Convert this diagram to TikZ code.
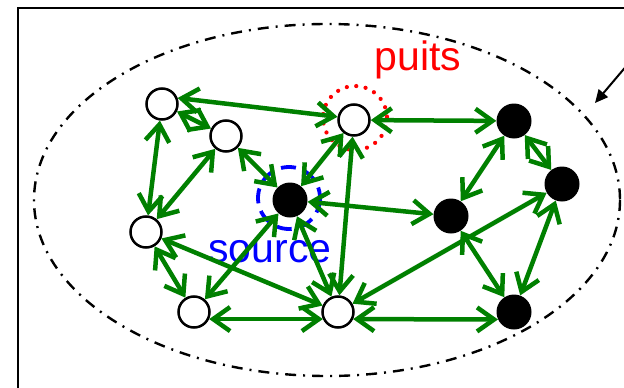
\documentclass[tikz,border=0pt]{standalone}
\usepackage{fontspec}
\setmainfont{Liberation Sans}
\usetikzlibrary{arrows.meta}
\definecolor{vert}{RGB}{0,128,0}
\tikzset{
	vide/.style={circle, draw=black, fill=white, line width=2.5pt, minimum size=31pt, inner sep=0pt},
	plein/.style={circle, fill=black, minimum size=35pt, inner sep=0pt},
	lien/.style={vert, line width=4.5pt, {Straight Barb[length=17pt,width=24pt]}-{Straight Barb[length=17pt,width=24pt]}},
	grand/.style={font=\fontsize{41}{41}\selectfont, anchor=base, inner sep=0pt}
}
\begin{document}
\begin{tikzpicture}[x=1pt, y=-1pt]
		\clip (0,0) rectangle (624,388);
		\fill[white] (0,0) rectangle (624,388);
		\draw[line width=2.2pt] (18,420) -- (18,8) -- (660,8);
		\draw[line width=2.4pt, dash pattern=on 11pt off 7pt on 2pt off 7pt] (327,200) ellipse (293 and 176);
		\coordinate (fl) at (634,57);
		\coordinate (cible) at (595,103);
		\draw[line width=2pt, -{Triangle[length=13pt,width=12pt]}] (fl) -- (cible);
		
		\draw[red, line width=4.2pt, line cap=round, dash pattern=on 0pt off 9.5pt] (355,118) circle (32);
		\draw[blue, line width=3.8pt, dash pattern=on 15pt off 8pt] (289,198) circle (31);
		\node[grand, red] (puits) at (418,70) {puits};
		\node[grand, blue] (source) at (270,262) {source};
		
		\node[vide] (A) at (162,104) {};
		\node[vide] (B) at (226,136) {};
		\node[plein] (S) at (290,200) {};
		\node[vide] (P) at (354,120) {};
		\node[vide] (C) at (146,232) {};
		\node[vide] (D) at (194,312) {};
		\node[vide] (E) at (338,312) {};
		\node[plein] (F) at (514,121) {};
		\node[plein] (G) at (562,184) {};
		\node[plein] (H) at (451,216) {};
		\node[plein] (I) at (514,312) {};
		
		\draw[lien] (A.21) -- (P.169);
		\draw[lien] (A) -- (B);
		\draw[lien] (A) -- (C);
		\draw[lien] (B) -- (C);
		\draw[lien] (B) -- (S);
		\draw[lien] (P) -- (S);
		\draw[lien] (P) -- (F);
		\draw[lien] (P) -- (E);
		\draw[lien] (S) -- (H);
		\draw[lien] (S) -- (D);
		\draw[lien] (S) -- (E);
		\draw[lien] (C) -- (E);
		\draw[lien] (C) -- (D);
		\draw[lien] (D.-25) -- (E.205);
		\draw[lien] (E.-25) -- (I.205);
		\draw[lien] (E) -- (G);
		\draw[lien] (F) -- (H);
		\draw[lien] (F) -- (G);
		\draw[lien] (H) -- (I);
		\draw[lien] (G) -- (I);
	\end{tikzpicture}
\end{document}
